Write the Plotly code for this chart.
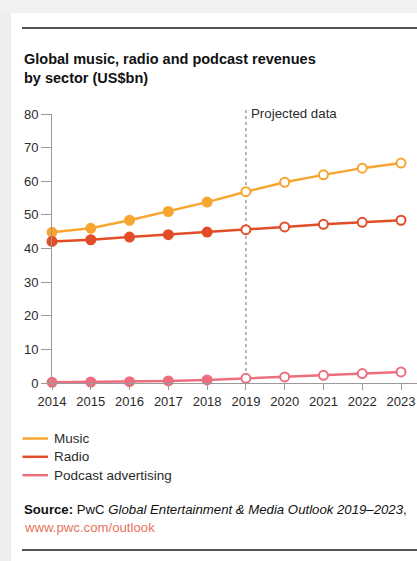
import plotly.graph_objects as go

# Revenue data (US$bn)
years = [2014, 2015, 2016, 2017, 2018, 2019, 2020, 2021, 2022, 2023]
music = [44.8, 46.0, 48.4, 51.0, 53.8, 56.9, 59.7, 61.9, 63.9, 65.4]
radio = [42.1, 42.6, 43.4, 44.1, 44.9, 45.6, 46.4, 47.2, 47.8, 48.4]
podcast = [0.2, 0.3, 0.4, 0.6, 0.9, 1.4, 1.8, 2.3, 2.8, 3.3]
series_names = ["Music", "Radio", "Podcast advertising"]
first_projected_year = 2019
y_ticks = [0, 10, 20, 30, 40, 50, 60, 70, 80]

W, H = 417, 561
L, R, T, B = 52, 0, 114, 178
PW, PH = W - L - R, H - T - B

colors = ["#F6A631", "#E14D27", "#EC6E7F"]
text_col = "#2b2b2b"
font = "Liberation Sans, Arial, sans-serif"


def px(x):
    return (x - L) / PW


def py(y):
    return (H - B - y) / PH


fig = go.Figure()

for name, vals, col in zip(series_names, [music, radio, podcast], colors):
    fills = [col if yr < first_projected_year else "white" for yr in years]
    fig.add_trace(go.Scatter(
        x=years, y=vals, mode="lines+markers", name=name, showlegend=False,
        line=dict(color=col, width=2.5),
        marker=dict(size=9, color=fills, line=dict(color=col, width=2)),
        cliponaxis=False,
    ))

shapes = [
    # page background outside the white panel
    dict(type="rect", xref="paper", yref="paper", x0=px(0), x1=px(11), y0=py(H), y1=py(0),
         fillcolor="#eeeeee", line_width=0, layer="below"),
    dict(type="rect", xref="paper", yref="paper", x0=px(0), x1=px(W), y0=py(13), y1=py(0),
         fillcolor="#f1f1f1", line_width=0, layer="below"),
    # rules
    dict(type="line", xref="paper", yref="paper", x0=px(22), x1=px(W), y0=py(28), y1=py(28),
         line=dict(color="#1a1a1a", width=1.5)),
    dict(type="line", xref="paper", yref="paper", x0=px(22), x1=px(W), y0=py(550), y1=py(550),
         line=dict(color="#1a1a1a", width=1.5)),
    # projection divider
    dict(type="line", xref="x", yref="paper", x0=first_projected_year, x1=first_projected_year,
         y0=0, y1=py(110), line=dict(color="#a0a0a0", width=1.5, dash="dot"), layer="below"),
]

annotations = [
    dict(xref="paper", yref="paper", x=px(22), y=py(49), xanchor="left", yanchor="top",
         align="left", showarrow=False,
         text="<b>Global music, radio and podcast revenues<br>by sector (US$bn)</b>",
         font=dict(family=font, size=14.5, color="#111111")),
    dict(xref="x", yref="paper", x=first_projected_year, y=py(113), xanchor="left", yanchor="middle",
         xshift=3, showarrow=False, text="Projected data",
         font=dict(family=font, size=13.3, color=text_col)),
    dict(xref="paper", yref="paper", x=px(22), y=py(509), xanchor="left", yanchor="middle",
         showarrow=False,
         text="<b>Source:</b> PwC <i>Global Entertainment & Media Outlook 2019–2023</i>,",
         font=dict(family=font, size=13.2, color="#111111")),
    dict(xref="paper", yref="paper", x=px(22), y=py(527), xanchor="left", yanchor="middle",
         showarrow=False, text="www.pwc.com/outlook",
         font=dict(family=font, size=13.2, color="#E8735C")),
]

# legend keys: short coloured line plus label
legend_rows = [438.5, 456.8, 475.2]
for name, col, row in zip(series_names, colors, legend_rows):
    shapes.append(dict(type="line", xref="paper", yref="paper", x0=px(22.5), x1=px(48),
                       y0=py(row), y1=py(row), line=dict(color=col, width=2.5)))
    annotations.append(dict(xref="paper", yref="paper", x=px(52), y=py(row), xanchor="left",
                            yanchor="middle", showarrow=False, text=name,
                            font=dict(family=font, size=13.5, color=text_col)))

fig.update_layout(
    width=W, height=H,
    margin=dict(l=L, r=R, t=T, b=B),
    paper_bgcolor="white", plot_bgcolor="white",
    font=dict(family=font, size=12, color=text_col),
    shapes=shapes, annotations=annotations,
    showlegend=False,
)

fig.update_xaxes(
    range=[2014, 2014 + (W - L) / ((401.3 - 52.3) / 9)],
    tickmode="array", tickvals=years, ticktext=[str(y) for y in years],
    showgrid=False, zeroline=False, showline=True, linecolor="#9a9a9a", linewidth=1,
    ticks="outside", ticklen=6, tickcolor="#9a9a9a",
    tickfont=dict(size=13, color=text_col),
)
fig.update_yaxes(
    range=[0, 80], tickmode="array", tickvals=y_ticks,
    showgrid=False, zeroline=False, showline=True, linecolor="#9a9a9a", linewidth=1,
    ticks="outside", ticklen=10, tickcolor="#9a9a9a",
    tickfont=dict(size=13, color=text_col),
)

fig.write_html("out.html")
